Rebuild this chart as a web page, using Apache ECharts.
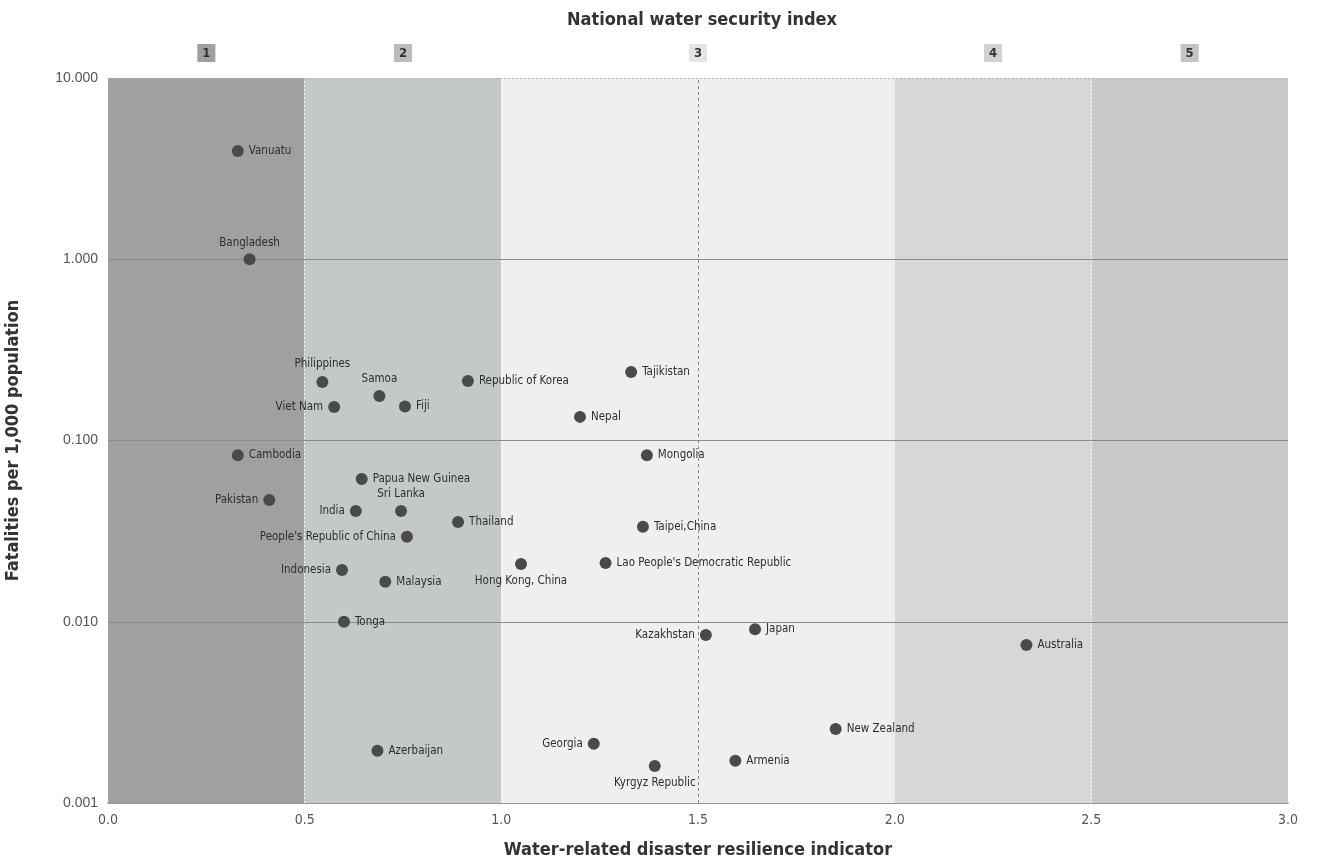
<!DOCTYPE html>
<html>
<head>
<meta charset="utf-8">
<script src="https://cdn.jsdelivr.net/npm/echarts@6/dist/echarts.min.js"></script>
<style>html,body{margin:0;padding:0;background:#fff;}#chart{width:1317px;height:861px;}</style>
</head>
<body>
<div id="chart"></div>
<script>
// ---- data ----
const countries = ["Vanuatu","Bangladesh","Philippines","Samoa","Viet Nam","Fiji","Republic of Korea","Tajikistan","Nepal","Cambodia","Mongolia","Papua New Guinea","Pakistan","India","Sri Lanka","Thailand","Taipei,China","People's Republic of China","Hong Kong, China","Lao People's Democratic Republic","Indonesia","Malaysia","Tonga","Kazakhstan","Japan","Australia","New Zealand","Azerbaijan","Georgia","Armenia","Kyrgyz Republic"];
const resilience = [0.33,0.36,0.545,0.69,0.575,0.755,0.915,1.33,1.2,0.33,1.37,0.645,0.41,0.63,0.745,0.89,1.36,0.76,1.05,1.265,0.595,0.705,0.6,1.52,1.645,2.335,1.85,0.685,1.235,1.595,1.39];
const fatalities = [3.96,1.0,0.21,0.176,0.153,0.154,0.213,0.239,0.135,0.083,0.083,0.0614,0.047,0.0408,0.0408,0.0355,0.0334,0.0294,0.0208,0.0211,0.0193,0.0166,0.0100,0.00845,0.0091,0.00745,0.00256,0.00194,0.00212,0.00171,0.0016];
const securityBands = [[0,0.5],[0.5,1.0],[1.0,2.0],[2.0,2.5],[2.5,3.0]];
const securityLabels = ["1","2","3","4","5"];
const yTicks = [0.001,0.01,0.1,1,10];
const xTicks = [0,0.5,1.0,1.5,2.0,2.5,3.0];

// ---- styles / layout ----
const bandColors = ["#a0a0a0","#c5c8c8","#efefef","#d7d7d7","#c9c9c9"];
const boxColors = ["#a0a0a0","#bcbcbc","#e4e4e4","#d2d2d2","#c4c4c4"];
const narrow = "'Liberation Sans Narrow','DejaVu Sans Condensed',sans-serif";
const labelPlacement = {
  "Bangladesh": {position:"top", distance:4},
  "Philippines": {position:"top", offset:[-10,0], distance:6},
  "Samoa": {position:"top", offset:[11,2]},
  "Viet Nam": {position:"left"},
  "Pakistan": {position:"left"},
  "India": {position:"left"},
  "Sri Lanka": {position:"top", offset:[20,2]},
  "People's Republic of China": {position:"left"},
  "Hong Kong, China": {position:"bottom", offset:[-16,0]},
  "Indonesia": {position:"left"},
  "Tonga": {position:"right", offset:[-2,9]},
  "Kazakhstan": {position:"left"},
  "Georgia": {position:"left"},
  "Kyrgyz Republic": {position:"bottom", offset:[-3,5]}
};

const points = countries.map((c,i)=>{
  const p = labelPlacement[c] || {position:"right"};
  return {
    name: c,
    value: [resilience[i], fatalities[i]],
    label: Object.assign({show:true, formatter:c}, p)
  };
});

const areas = securityBands.map((b,i)=>[
  {xAxis:b[0], yAxis:10, itemStyle:{color:bandColors[i], opacity:1},
   label:{show:true, position:"top", distance:16, formatter:securityLabels[i],
     backgroundColor:boxColors[i], padding:[3,5,2,5], color:"#333", fontWeight:"bold",
     fontFamily:narrow, fontSize:13}},
  {xAxis:b[1], yAxis:0.001}
]);

const sepLines = [0.5,1.0,1.5,2.0,2.5].map(v=>({
  xAxis:v,
  lineStyle: v===1.5 ? {color:"#8a8a8a", type:[3,3], width:1} : {color:"#f4f4f4", type:[2,2], width:1}
})).concat(yTicks.filter(v=>v>0.001).map(v=>({
  yAxis:v,
  lineStyle: v===10 ? {color:"#b0b0b0", type:[2,2], width:1} : {color:"#8a8a8a", type:"solid", width:1.2}
})));

const chart = echarts.init(document.getElementById('chart'));
chart.setOption({
  animation:false,
  backgroundColor:"#ffffff",
  title:{
    text:"National water security index", left:697, textAlign:"center", top:6,
    textStyle:{fontFamily:narrow, fontWeight:"bold", fontSize:18, color:"#333"}
  },
  grid:{left:108, right:29, top:78, bottom:58, outerBoundsMode:"none", containLabel:false},
  xAxis:{
    type:"value", min:0, max:3, interval:0.5,
    name:"Water-related disaster resilience indicator",
    nameLocation:"middle", nameGap:38,
    nameTextStyle:{fontFamily:narrow, fontWeight:"bold", fontSize:18, color:"#333"},
    axisLine:{show:true, lineStyle:{color:"#777", width:1.5}},
    axisTick:{show:false},
    splitLine:{show:false},
    axisLabel:{fontFamily:narrow, fontSize:14, color:"#555", margin:10,
      formatter:v=>xTicks.includes(v) ? v.toFixed(1) : ""}
  },
  yAxis:{
    type:"log", logBase:10, min:0.001, max:10,
    name:"Fatalities per 1,000 population",
    nameLocation:"middle", nameGap:86, nameRotate:90,
    nameTextStyle:{fontFamily:narrow, fontWeight:"bold", fontSize:18, color:"#333"},
    axisLine:{show:true, lineStyle:{color:"#9a9a9a", width:1}},
    axisTick:{show:false},
    splitLine:{show:false},
    axisLabel:{fontFamily:"'Liberation Sans',Arial,sans-serif", fontSize:14, color:"#555", margin:10,
      formatter:v=>{ const t=yTicks.find(x=>Math.abs(x-v)/x<1e-6); return t!==undefined ? t.toFixed(3) : ""; }}
  },
  series:[{
    type:"scatter",
    data:[],
    z:1,
    markArea:{silent:true, data:areas},
    markLine:{silent:true, symbol:"none", label:{show:false}, data:sepLines}
  },{
    type:"scatter",
    data:points,
    symbol:"circle",
    symbolSize:12,
    itemStyle:{color:"#4a4a4a", opacity:1},
    label:{fontFamily:narrow, fontSize:11.5, color:"#2e2e2e", distance:5},
    labelLayout:{hideOverlap:false},
    z:10
  }]
});
</script>
</body>
</html>
